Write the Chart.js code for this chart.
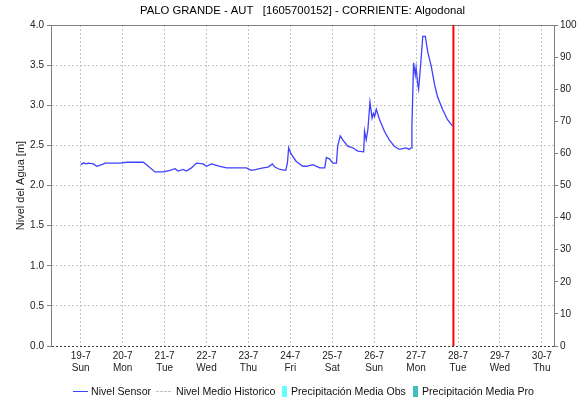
<!DOCTYPE html>
<html>
<head>
<meta charset="utf-8">
<script src="https://cdn.jsdelivr.net/npm/chart.js@4.4.1/dist/chart.umd.min.js"></script>
<style>
  html, body { margin: 0; padding: 0; background: #ffffff; }
  #wrap { position: relative; width: 577px; height: 401px; overflow: hidden; }
  #c { position: absolute; left: 0; top: 0; }
  .lg { position: absolute; font-family: "Liberation Sans", Arial, sans-serif; font-size: 10.6px; color: #111; white-space: nowrap; line-height: 13px; }
  .sym { position: absolute; }
</style>
</head>
<body>
<div id="wrap">
  <canvas id="c" width="577" height="401"></canvas>
  <div id="legend"></div>
</div>
<script>
// ---- chart texts ----
const chartTitle = 'PALO GRANDE - AUT   [1605700152] - CORRIENTE: Algodonal';
const leftAxisTitle = 'Nivel del Agua [m]';

// ---- x axis: days (0 = 19-7 00:00) ----
const dayDates = ['19-7', '20-7', '21-7', '22-7', '23-7', '24-7', '25-7', '26-7', '27-7', '28-7', '29-7', '30-7'];
const dayNames = ['Sun', 'Mon', 'Tue', 'Wed', 'Thu', 'Fri', 'Sat', 'Sun', 'Mon', 'Tue', 'Wed', 'Thu'];
const axisStartDay = -0.71;
const axisEndDay = 11.29;

// ---- y axes ----
const levelMin = 0, levelMax = 4, levelStep = 0.5;
const rainMin = 0, rainMax = 100, rainStep = 10;

// ---- series: Nivel Sensor (day offset, level in m) ----
const sensorDays = [
  0.00, 0.06, 0.14, 0.18, 0.30, 0.38, 0.50, 0.58, 0.94, 1.10,
  1.49, 1.57, 1.77, 1.97, 2.13, 2.25, 2.32, 2.44, 2.52, 2.64,
  2.76, 2.92, 3.00, 3.12, 3.32, 3.48, 3.95, 4.07, 4.19, 4.35,
  4.47, 4.57, 4.63, 4.75, 4.89, 4.93, 4.96, 5.01, 5.14, 5.30,
  5.38, 5.54, 5.70, 5.82, 5.86, 5.94, 6.01, 6.10, 6.13, 6.19,
  6.25, 6.37, 6.49, 6.61, 6.75, 6.77, 6.81, 6.85, 6.90, 6.95,
  6.98, 7.01, 7.05, 7.13, 7.25, 7.36, 7.48, 7.60, 7.76, 7.84,
  7.88, 7.90, 7.94, 7.98, 8.00, 8.04, 8.06, 8.10, 8.16, 8.22,
  8.28, 8.36, 8.44, 8.51, 8.63, 8.75, 8.87
];
const sensorLevel = [
  2.26, 2.28, 2.27, 2.28, 2.27, 2.24, 2.26, 2.28, 2.28, 2.29,
  2.29, 2.26, 2.17, 2.17, 2.19, 2.21, 2.18, 2.20, 2.18, 2.22,
  2.28, 2.27, 2.24, 2.27, 2.24, 2.22, 2.22, 2.19, 2.20, 2.22,
  2.23, 2.27, 2.23, 2.20, 2.19, 2.28, 2.47, 2.40, 2.30, 2.24,
  2.24, 2.26, 2.22, 2.22, 2.35, 2.33, 2.28, 2.28, 2.49, 2.62,
  2.57, 2.49, 2.47, 2.43, 2.42, 2.68, 2.57, 2.70, 3.04, 2.84,
  2.90, 2.86, 2.95, 2.82, 2.67, 2.57, 2.49, 2.45, 2.47, 2.45,
  2.47, 2.74, 3.53, 3.38, 3.47, 3.26, 3.20, 3.45, 3.86, 3.86,
  3.66, 3.49, 3.26, 3.11, 2.95, 2.82, 2.74
];

// current-time marker (day offset)
const nowMarkerDay = 8.89;

// ---- legend ----
const legendLabels = ['Nivel Sensor', 'Nivel Medio Historico', 'Precipitación Media Obs', 'Precipitación Media Pro'];
const legendColors = ['#4040ff', '#c0c0c0', '#66ffff', '#3fbfbf'];

// build legend (HTML)
(function () {
  const lg = document.getElementById('legend');
  const symLeft = [73, 156, 282, 413];
  const txtLeft = [91, 176, 291, 422];
  const textTop = 385;
  legendLabels.forEach((lab, i) => {
    const s = document.createElement('div');
    s.className = 'sym';
    if (i === 0) {
      s.style.cssText = `left:${symLeft[i]}px;top:391px;width:15px;height:0;border-top:1px solid ${legendColors[i]};`;
    } else if (i === 1) {
      s.style.cssText = `left:${symLeft[i]}px;top:391px;width:15px;height:0;border-top:1px dashed ${legendColors[i]};`;
    } else {
      s.style.cssText = `left:${symLeft[i]}px;top:386px;width:5px;height:11px;background:${legendColors[i]};`;
    }
    lg.appendChild(s);
    const t = document.createElement('div');
    t.className = 'lg';
    t.style.left = txtLeft[i] + 'px';
    t.style.top = textTop + 'px';
    t.textContent = lab;
    lg.appendChild(t);
  });
})();

const fontFamily = '"Liberation Sans", Arial, sans-serif';
const gridGray = '#c4c4c4';
const axisGray = '#808080';

new Chart(document.getElementById('c'), {
  type: 'line',
  data: {
    datasets: [
      {
        label: legendLabels[0],
        data: sensorDays.map((d, i) => ({ x: d, y: sensorLevel[i] })),
        borderColor: legendColors[0],
        borderWidth: 1.3,
        pointRadius: 0,
        tension: 0,
        xAxisID: 'x',
        yAxisID: 'y'
      },
      {
        label: 'now',
        data: [{ x: nowMarkerDay, y: levelMin }, { x: nowMarkerDay, y: levelMax }],
        borderColor: '#ff0000',
        borderWidth: 2,
        pointRadius: 0,
        xAxisID: 'x',
        yAxisID: 'y'
      }
    ]
  },
  options: {
    responsive: false,
    animation: false,
    devicePixelRatio: 1,
    layout: { padding: 0 },
    plugins: {
      legend: { display: false },
      tooltip: { enabled: false },
      title: {
        display: true,
        text: chartTitle,
        fullSize: false,
        color: '#000',
        font: { family: fontFamily, size: 11.3, weight: 'normal' },
        padding: { top: 4, bottom: 7.5 }
      }
    },
    scales: {
      x: {
        type: 'linear',
        position: 'bottom',
        min: axisStartDay,
        max: axisEndDay,
        afterBuildTicks: (s) => { s.ticks = dayDates.map((_, i) => ({ value: i })); },
        afterFit: (s) => { s.height = 55; },
        ticks: {
          autoSkip: false,
          maxRotation: 0,
          padding: 4,
          color: '#222',
          font: { family: fontFamily, size: 10 },
          callback: (v, i) => [dayDates[i], dayNames[i]]
        },
        grid: { color: gridGray, lineWidth: 1, drawTicks: false },
        border: { display: false, dash: [2, 2] }
      },
      xTop: {
        type: 'linear',
        axis: 'x',
        position: 'top',
        min: axisStartDay,
        max: axisEndDay,
        ticks: { display: false },
        grid: { display: false, drawTicks: false },
        border: { display: true, color: axisGray, width: 1 },
        afterFit: (s) => { s.height = 0; }
      },
      y: {
        type: 'linear',
        position: 'left',
        min: levelMin,
        max: levelMax,
        afterFit: (s) => { s.width = 51; },
        ticks: {
          stepSize: levelStep,
          padding: 3,
          color: '#222',
          font: { family: fontFamily, size: 10 },
          callback: (v) => Number(v).toFixed(1)
        },
        grid: {
          color: (ctx) => (ctx.tick && ctx.tick.value === 0 ? '#404040' : gridGray),
          lineWidth: 1,
          tickLength: 4,
          tickColor: axisGray
        },
        border: { display: true, color: axisGray, width: 1, dash: [2, 2] },
        title: {
          display: true,
          text: leftAxisTitle,
          color: '#222',
          font: { family: fontFamily, size: 11 },
          padding: { top: 14, bottom: 0 }
        }
      },
      y2: {
        type: 'linear',
        position: 'right',
        min: rainMin,
        max: rainMax,
        afterFit: (s) => { s.width = 23; },
        ticks: {
          stepSize: rainStep,
          padding: 2,
          color: '#222',
          font: { family: fontFamily, size: 10 }
        },
        grid: { drawOnChartArea: false, tickLength: 4, tickColor: axisGray },
        border: { display: true, color: axisGray, width: 1 }
      }
    }
  }
});
</script>
</body>
</html>
